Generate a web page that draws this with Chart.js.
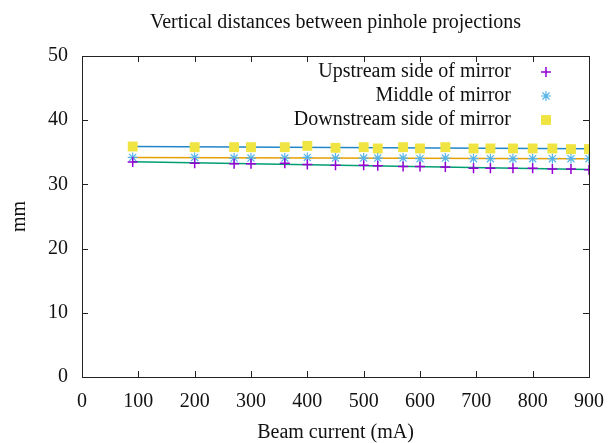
<!DOCTYPE html>
<html>
<head>
<meta charset="utf-8">
<script src="https://cdn.jsdelivr.net/npm/chart.js@4/dist/chart.umd.min.js"></script>
<style>
  html, body { margin: 0; padding: 0; background: #fff; }
  #wrap { width: 610px; height: 443px; }
</style>
</head>
<body>
<div id="wrap"><canvas id="pinholeChart"></canvas></div>
<script>
// beam current (mA) for each measurement
const currents = [90, 200, 270, 300, 360, 400, 450, 500, 525, 570, 600, 645, 695, 725, 765, 800, 835, 868, 900];

// vertical distances (mm)
const upstream   = [33.5, 33.3, 33.2, 33.2, 33.3, 33.1, 33.0, 33.0, 32.9, 32.8, 32.8, 32.7, 32.5, 32.5, 32.5, 32.5, 32.4, 32.4, 32.3];
const middle     = [34.2, 34.2, 34.1, 34.1, 34.1, 34.2, 34.1, 34.1, 34.1, 34.1, 34.0, 34.1, 34.0, 34.0, 34.0, 34.0, 34.0, 34.0, 34.0];
const downstream = [35.9, 35.8, 35.8, 35.8, 35.8, 36.0, 35.7, 35.8, 35.6, 35.8, 35.6, 35.8, 35.6, 35.6, 35.6, 35.6, 35.6, 35.5, 35.5];

const seriesLabels = ["Upstream side of mirror", "Middle of mirror", "Downstream side of mirror"];
const xTicks = [0, 100, 200, 300, 400, 500, 600, 700, 800, 900];
const yTicks = [0, 10, 20, 30, 40, 50];

const FONT = "'Liberation Serif', 'Times New Roman', serif";

function points(ys) {
    return currents.map((x, i) => ({ x: x, y: ys[i] }));
}

// least-squares straight line through a series, drawn across the measured range
function fitLine(ys) {
    const n = currents.length;
    const mx = currents.reduce((a, b) => a + b, 0) / n;
    const my = ys.reduce((a, b) => a + b, 0) / n;
    let sxy = 0, sxx = 0;
    currents.forEach((x, i) => { sxy += (x - mx) * (ys[i] - my); sxx += (x - mx) * (x - mx); });
    const b = sxy / sxx, a = my - b * mx;
    const x0 = currents[0], x1 = currents[n - 1];
    return [{ x: x0, y: a + b * x0 }, { x: x1, y: a + b * x1 }];
}

/* frame with inward ticks on all four sides (gnuplot style) */
const frameTicks = {
    id: "frameTicks",
    afterDatasetsDraw(chart) {
        const { ctx, chartArea: a, scales } = chart;
        const len = 6;
        ctx.save();
        ctx.strokeStyle = "#222";
        ctx.lineWidth = 1;
        ctx.beginPath();
        scales.x.ticks.forEach(t => {
            const px = Math.round(scales.x.getPixelForValue(t.value)) + 0.5;
            ctx.moveTo(px, a.bottom); ctx.lineTo(px, a.bottom - len);
            ctx.moveTo(px, a.top); ctx.lineTo(px, a.top + len);
        });
        scales.y.ticks.forEach(t => {
            const py = Math.round(scales.y.getPixelForValue(t.value)) + 0.5;
            ctx.moveTo(a.left, py); ctx.lineTo(a.left + len, py);
            ctx.moveTo(a.right, py); ctx.lineTo(a.right - len, py);
        });
        ctx.stroke();
        ctx.strokeRect(Math.round(a.left) + 0.5, Math.round(a.top) + 0.5,
                       Math.round(a.right - a.left), Math.round(a.bottom - a.top));
        ctx.restore();
    }
};

/* key in the top right corner: right-aligned text, symbol to its right */
const insideKey = {
    id: "insideKey",
    afterDraw(chart) {
        const { ctx, chartArea: a } = chart;
        ctx.save();
        ctx.font = "20px " + FONT;
        ctx.textAlign = "right";
        ctx.textBaseline = "middle";
        chart.data.datasets.filter(d => d.inKey).forEach((d, i) => {
            const y = a.top + 16 + i * 24;
            ctx.fillStyle = "#111";
            ctx.fillText(d.label, a.right - 78, y);
            ctx.fillStyle = d.backgroundColor;
            ctx.strokeStyle = d.borderColor;
            ctx.lineWidth = d.borderWidth;
            Chart.helpers.drawPoint(ctx, {
                pointStyle: d.pointStyle, radius: d.pointRadius,
                borderWidth: d.borderWidth, rotation: 0
            }, a.right - 43, y);
        });
        ctx.restore();
    }
};

new Chart(document.getElementById("pinholeChart"), {
    type: "scatter",
    data: {
        datasets: [
            { label: seriesLabels[0], data: points(upstream), inKey: true,
              pointStyle: "cross", pointRadius: 5, borderWidth: 1.5,
              borderColor: "#9400d3", backgroundColor: "#9400d3" },
            { label: seriesLabels[1], data: points(middle), inKey: true,
              pointStyle: "star", pointRadius: 5, borderWidth: 1.2,
              borderColor: "#56b4e9", backgroundColor: "#56b4e9" },
            { label: seriesLabels[2], data: points(downstream), inKey: true,
              pointStyle: "rect", pointRadius: 7, borderWidth: 0,
              borderColor: "#f0e442", backgroundColor: "#f0e442" },
            { label: "fit upstream", data: fitLine(upstream), type: "line", showLine: true,
              pointRadius: 0, borderWidth: 1.5, borderColor: "#009e73" },
            { label: "fit middle", data: fitLine(middle), type: "line", showLine: true,
              pointRadius: 0, borderWidth: 1.5, borderColor: "#e69f00" },
            { label: "fit downstream", data: fitLine(downstream), type: "line", showLine: true,
              pointRadius: 0, borderWidth: 1.5, borderColor: "#1f86c8" }
        ]
    },
    options: {
        responsive: true,
        maintainAspectRatio: false,
        animation: false,
        layout: { padding: { top: 11, right: 21, left: 0, bottom: 0 } },
        plugins: {
            legend: { display: false },
            tooltip: { enabled: false },
            title: {
                display: true,
                fullSize: false,
                text: "Vertical distances between pinhole projections",
                color: "#111",
                font: { family: FONT, size: 20, weight: "normal" },
                padding: { top: 0, bottom: 21 }
            }
        },
        scales: {
            x: {
                type: "linear",
                min: 0, max: 900,
                afterBuildTicks: s => { s.ticks = xTicks.map(v => ({ value: v })); },
                afterFit: s => { s.height = 66; s.paddingLeft = 0; s.paddingRight = 0; },
                grid: { display: false, drawTicks: false },
                border: { display: false },
                ticks: { color: "#111", padding: 13, font: { family: FONT, size: 20 } },
                title: {
                    display: true, text: "Beam current (mA)", color: "#111",
                    font: { family: FONT, size: 20, lineHeight: 1 }, padding: { top: 0, bottom: 0 }
                }
            },
            y: {
                min: 0, max: 50,
                afterBuildTicks: s => { s.ticks = yTicks.map(v => ({ value: v })); },
                afterFit: s => { s.width = 82; s.paddingTop = 0; s.paddingBottom = 0; },
                grid: { display: false, drawTicks: false },
                border: { display: false },
                ticks: { color: "#111", padding: 14, font: { family: FONT, size: 20 } },
                title: {
                    display: true, text: "mm", color: "#111",
                    font: { family: FONT, size: 20 }, padding: { top: 8, bottom: 0 }
                }
            }
        }
    },
    plugins: [frameTicks, insideKey]
});
</script>
</body>
</html>
